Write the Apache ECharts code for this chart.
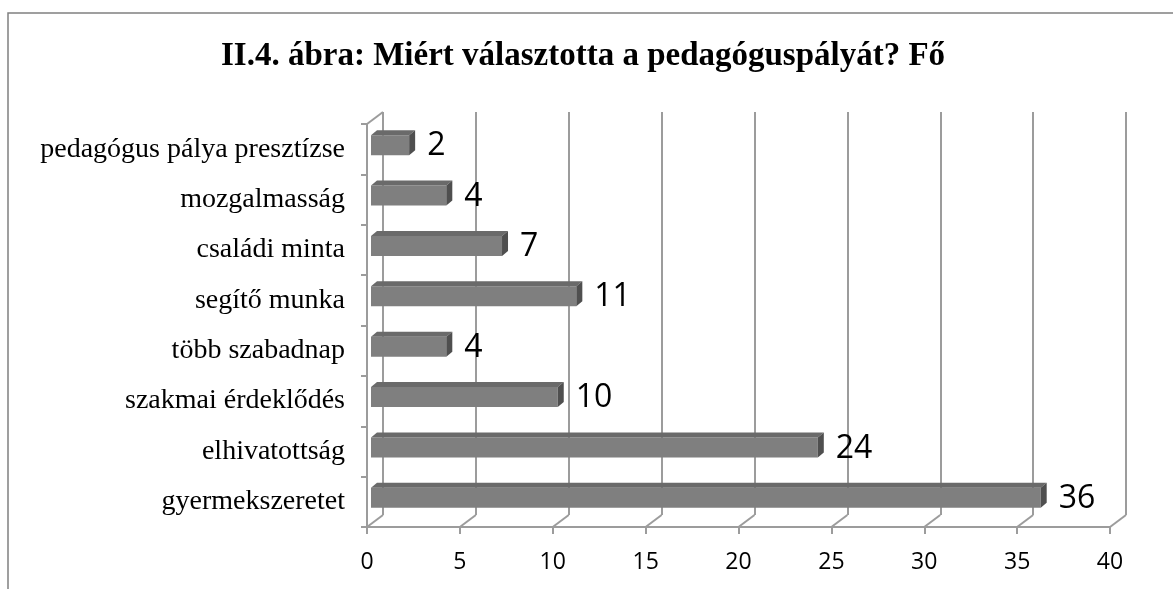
<!DOCTYPE html>
<html>
<head>
<meta charset="utf-8">
<script src="https://cdn.jsdelivr.net/npm/echarts@6/dist/echarts.min.js"></script>
<style>
  html, body { margin: 0; padding: 0; background: #fff; }
  #chart { width: 1173px; height: 589px; }
</style>
</head>
<body>
<div id="chart"></div>
<script>
// adatok (felülről lefelé)
var categories = ['pedagógus pálya presztízse', 'mozgalmasság', 'családi minta', 'segítő munka',
                  'több szabadnap', 'szakmai érdeklődés', 'elhivatottság', 'gyermekszeretet'];
var values = [2, 4, 7, 11, 4, 10, 24, 36];
var xTicks = [0, 5, 10, 15, 20, 25, 30, 35, 40];

var DX = 16, DY = 12;          // "3D" eltolás a hátfalhoz
var gridColor = '#9c9c9c';

var myChart = echarts.init(document.getElementById('chart'));

var barData = values.map(function (v, i) { return [v, i]; });
var tickData = xTicks.map(function (t) { return [t, categories.length - 1]; });

var option = {
    backgroundColor: '#fff',
    title: {
        text: 'II.4. ábra: Miért választotta a pedagóguspályát? Fő',
        left: 216,
        top: 35,
        textStyle: {
            fontFamily: 'Liberation Serif',
            fontWeight: 'bold',
            fontSize: 33,
            color: '#000'
        }
    },
    graphic: [{
        type: 'rect',
        shape: { x: 8, y: 13, width: 1300, height: 700 },
        style: { fill: 'none', stroke: '#808080', lineWidth: 1.5 },
        silent: true
    }],
    grid: [
        { left: 367, right: 63, top: 124, bottom: 62 },            // elülső sík
        { left: 367 + DX, right: 63 - DX, top: 124 - DY, bottom: 62 + DY }  // hátfal
    ],
    xAxis: [{
        gridIndex: 0,
        type: 'value',
        min: 0, max: 40, interval: 5,
        axisLine: { show: true, lineStyle: { color: gridColor, width: 2 } },
        axisTick: { show: true, length: 7, lineStyle: { color: gridColor, width: 2 } },
        splitLine: { show: false },
        axisLabel: {
            margin: 24,
            fontFamily: 'Open Sans',
            fontSize: 23,
            color: '#000'
        }
    }, {
        gridIndex: 1,
        type: 'value',
        min: 0, max: 40, interval: 5,
        axisLine: { show: false },
        axisTick: { show: false },
        axisLabel: { show: false },
        splitLine: { show: true, lineStyle: { color: gridColor, width: 2 } }
    }],
    yAxis: [{
        gridIndex: 0,
        type: 'category',
        inverse: true,
        data: categories,
        axisLine: { show: true, lineStyle: { color: gridColor, width: 2 } },
        axisTick: { show: true, length: 6, lineStyle: { color: gridColor, width: 2 } },
        axisLabel: {
            margin: 22,
            fontFamily: 'Liberation Serif',
            fontSize: 28,
            color: '#000'
        }
    }, {
        gridIndex: 1,
        type: 'category',
        inverse: true,
        data: categories,
        show: false
    }],
    series: [{
        // padló ferde vonalai + bal felső sarok
        type: 'custom',
        xAxisIndex: 0,
        yAxisIndex: 0,
        silent: true,
        data: tickData,
        renderItem: function (params, api) {
            var p = api.coord([api.value(0), api.value(1)]);
            var band = api.size([0, 1])[1];
            var yf = p[1] + band / 2;
            var children = [{
                type: 'line',
                shape: { x1: p[0], y1: yf, x2: p[0] + DX, y2: yf - DY },
                style: { stroke: gridColor, lineWidth: 2 }
            }];
            if (api.value(0) === 0) {
                var top = api.coord([0, 0]);
                var yt = top[1] - band / 2;
                children.push({
                    type: 'line',
                    shape: { x1: p[0], y1: yt, x2: p[0] + DX, y2: yt - DY },
                    style: { stroke: gridColor, lineWidth: 2 }
                });
            }
            return { type: 'group', children: children };
        }
    }, {
        // oszlopok
        type: 'custom',
        xAxisIndex: 0,
        yAxisIndex: 0,
        data: barData,
        encode: { x: 0, y: 1 },
        renderItem: function (params, api) {
            var v = api.value(0);
            var s = api.coord([0, api.value(1)]);
            var e = api.coord([v, api.value(1)]);
            var x0 = s[0] + 4, x1 = e[0] + 5;
            var yc = s[1] - 4, h = 20;
            var yt = yc - h / 2, yb = yc + h / 2;
            var dx = 6, dy = 5;
            return {
                type: 'group',
                children: [{
                    type: 'rect',
                    shape: { x: x0, y: yt, width: x1 - x0, height: h },
                    style: { fill: '#7f7f7f' }
                }, {
                    type: 'polygon',
                    shape: { points: [[x0, yt], [x0 + dx, yt - dy], [x1 + dx, yt - dy], [x1, yt]] },
                    style: { fill: '#6a6a6a' }
                }, {
                    type: 'polygon',
                    shape: { points: [[x1, yt], [x1 + dx, yt - dy], [x1 + dx, yb - dy], [x1, yb]] },
                    style: { fill: '#4f4f4f' }
                }, {
                    type: 'text',
                    style: {
                        text: String(v),
                        x: x1 + dx + 12,
                        y: yc + 1,
                        verticalAlign: 'middle',
                        font: '32px "Open Sans"',
                        fill: '#000'
                    }
                }]
            };
        }
    }]
};

myChart.setOption(option);
</script>
</body>
</html>
